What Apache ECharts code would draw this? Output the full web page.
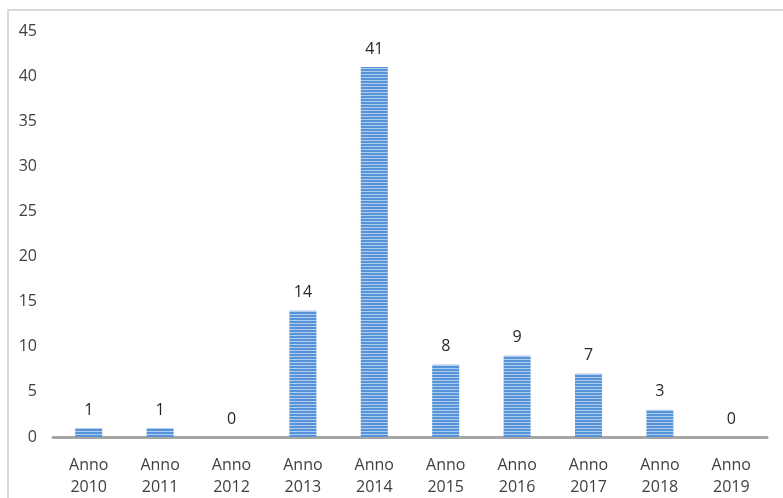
<!DOCTYPE html>
<html>
<head>
<meta charset="utf-8">
<script src="https://cdn.jsdelivr.net/npm/echarts@6/dist/echarts.min.js"></script>
<style>
  html, body { margin: 0; padding: 0; background: #ffffff; }
  #chart { width: 783px; height: 498px; }
</style>
</head>
<body>
<div id="chart"></div>
<script>
// Numero di casi per anno
const categories = ['Anno\n2010', 'Anno\n2011', 'Anno\n2012', 'Anno\n2013', 'Anno\n2014',
                    'Anno\n2015', 'Anno\n2016', 'Anno\n2017', 'Anno\n2018', 'Anno\n2019'];
const values = [1, 1, 0, 14, 41, 8, 9, 7, 3, 0];
const yTicks = { min: 0, max: 45, interval: 5 };

// Horizontal striped fill for the bars
function stripePattern() {
  const c = document.createElement('canvas');
  c.width = 4; c.height = 3;
  const g = c.getContext('2d');
  g.fillStyle = '#5693d8';
  g.fillRect(0, 0, 4, 3);
  g.fillStyle = '#b0cdef';
  g.fillRect(0, 2, 4, 1);
  return { image: c, repeat: 'repeat' };
}

const chart = echarts.init(document.getElementById('chart'), null, { renderer: 'canvas' });
const font = '"Open Sans", "Liberation Sans", sans-serif';

chart.setOption({
  animation: false,
  backgroundColor: '#ffffff',
  graphic: [{
    type: 'polyline',
    shape: { points: [[8, 520], [8, 10], [800, 10]] },
    style: { stroke: '#d9d9d9', lineWidth: 2, fill: null },
    silent: true
  }],
  grid: { left: 53, right: 16, top: 31, bottom: 61, containLabel: false },
  xAxis: {
    type: 'category',
    data: categories,
    axisLine: { show: true, lineStyle: { color: '#a6a6a6', width: 3 } },
    axisTick: { show: false },
    axisLabel: { color: '#404040', fontFamily: font, fontSize: 16, lineHeight: 22, margin: 17 }
  },
  yAxis: {
    type: 'value',
    min: yTicks.min, max: yTicks.max, interval: yTicks.interval,
    axisLine: { show: false },
    axisTick: { show: false },
    splitLine: { show: false },
    axisLabel: { color: '#404040', fontFamily: font, fontSize: 16, margin: 16 }
  },
  series: [{
    type: 'bar',
    data: values,
    barWidth: 27,
    itemStyle: { color: stripePattern() },
    label: {
      show: true, position: 'top', distance: 10,
      color: '#262626', fontFamily: font, fontSize: 16
    }
  }]
});
</script>
</body>
</html>
